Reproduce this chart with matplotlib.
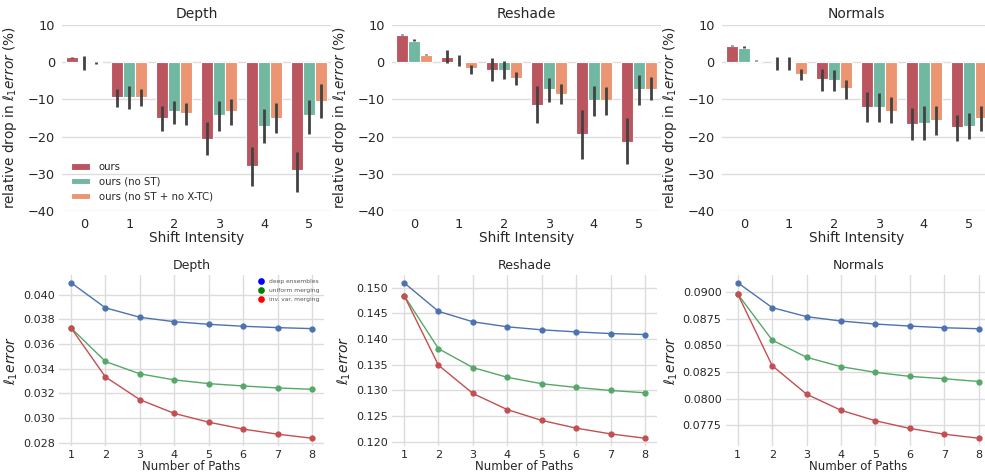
import matplotlib
matplotlib.use("Agg")
import matplotlib.pyplot as plt
import numpy as np

plt.rcParams.update({
    "font.family": "DejaVu Sans",
    "text.color": "#262626",
    "axes.labelcolor": "#262626",
    "xtick.color": "#262626",
    "ytick.color": "#262626",
})

# --- top row: relative drop in l1 error per shift intensity ---
tasks = ["Depth", "Reshade", "Normals"]
shifts = [0, 1, 2, 3, 4, 5]
methods = ["ours", "ours (no ST)", "ours (no ST + no X-TC)"]
bar_colors = ["#bb5560", "#70b8a1", "#eb9572"]

depth_mean = [
    [1.25, -9.3, -15.0, -20.6, -27.8, -29.1],
    [0.0, -9.5, -13.2, -14.3, -17.2, -14.2],
    [-0.2, -9.5, -13.8, -13.1, -15.0, -10.5],
]
depth_lo = [
    [1.2, -12.1, -18.6, -24.9, -33.2, -34.8],
    [-2.0, -12.5, -16.7, -18.4, -21.8, -19.4],
    [-0.4, -11.9, -17.0, -16.8, -19.1, -15.1],
]
depth_hi = [
    [1.5, -7.2, -11.7, -16.1, -22.8, -24.2],
    [1.7, -6.4, -10.4, -10.4, -12.6, -10.1],
    [-0.1, -7.3, -11.0, -9.8, -11.0, -5.8],
]

reshade_mean = [
    [7.3, 1.4, -2.0, -11.4, -19.3, -21.4],
    [5.7, 0.3, -2.0, -7.3, -10.2, -7.3],
    [2.0, -1.7, -4.3, -8.5, -10.2, -7.2],
]
reshade_lo = [
    [7.2, -0.3, -5.0, -16.4, -25.9, -27.3],
    [5.8, -1.1, -4.6, -10.7, -14.5, -11.4],
    [2.0, -3.1, -6.2, -11.3, -14.3, -10.3],
]
reshade_hi = [
    [7.6, 3.3, 1.1, -6.4, -12.8, -15.0],
    [6.1, 2.0, 0.2, -4.3, -6.3, -3.5],
    [2.3, -0.7, -2.7, -5.8, -6.6, -4.1],
]

normals_mean = [
    [4.2, 0.0, -4.6, -12.0, -16.6, -17.5],
    [3.9, -0.2, -4.8, -12.0, -16.3, -17.1],
    [0.4, -3.2, -7.0, -13.0, -15.5, -14.9],
]
normals_lo = [
    [4.2, -2.0, -7.7, -16.0, -20.9, -21.3],
    [3.9, -2.2, -7.7, -16.1, -20.9, -20.7],
    [0.4, -4.9, -9.8, -16.4, -19.6, -18.4],
]
normals_hi = [
    [4.6, 1.5, -1.8, -8.1, -12.4, -14.1],
    [4.3, 1.3, -2.0, -8.4, -11.9, -13.8],
    [0.7, -1.9, -4.7, -9.3, -11.9, -11.7],
]

bar_data = {
    "Depth": (depth_mean, depth_lo, depth_hi),
    "Reshade": (reshade_mean, reshade_lo, reshade_hi),
    "Normals": (normals_mean, normals_lo, normals_hi),
}

# --- bottom row: l1 error vs number of paths ---
n_paths = [1, 2, 3, 4, 5, 6, 7, 8]
line_names = ["deep ensembles", "uniform merging", "inv. var. merging"]
line_colors = ["#4c72b0", "#55a868", "#c44e52"]
legend_colors = ["blue", "green", "red"]

depth_lines = [
    [0.04095, 0.03892, 0.03816, 0.03780, 0.03759, 0.03743, 0.03732, 0.03724],
    [0.03729, 0.03458, 0.03358, 0.03309, 0.03279, 0.03260, 0.03244, 0.03233],
    [0.03729, 0.03333, 0.03149, 0.03038, 0.02967, 0.02911, 0.02870, 0.02837],
]
reshade_lines = [
    [0.15098, 0.14540, 0.14337, 0.14239, 0.14180, 0.14140, 0.14107, 0.14088],
    [0.14849, 0.13812, 0.13444, 0.13254, 0.13129, 0.13057, 0.12998, 0.12952],
    [0.14849, 0.13490, 0.12939, 0.12624, 0.12414, 0.12263, 0.12151, 0.12066],
]
normals_lines = [
    [0.09088, 0.08855, 0.08770, 0.08729, 0.08701, 0.08682, 0.08666, 0.08657],
    [0.08981, 0.08550, 0.08389, 0.08301, 0.08248, 0.08210, 0.08188, 0.08162],
    [0.08981, 0.08310, 0.08043, 0.07892, 0.07794, 0.07722, 0.07668, 0.07630],
]
line_data = {"Depth": depth_lines, "Reshade": reshade_lines, "Normals": normals_lines}
ytick_fmt = {"Depth": "{:.3f}", "Reshade": "{:.3f}", "Normals": "{:.4f}"}
yticks = {
    "Depth": np.arange(0.028, 0.0405, 0.002),
    "Reshade": np.arange(0.120, 0.1505, 0.005),
    "Normals": np.arange(0.0775, 0.0905, 0.0025),
}

fig = plt.figure(figsize=(9.85, 4.76), dpi=100)

top_lefts = [0.0629, 0.3975, 0.7328]
bot_lefts = [0.0599, 0.3980, 0.7368]


def strip(ax):
    for s in ax.spines.values():
        s.set_visible(False)
    ax.tick_params(length=0)


for i, task in enumerate(tasks):
    ax = fig.add_axes([top_lefts[i], 0.5567, 0.2736, 0.391])
    strip(ax)
    mean, lo, hi = bar_data[task]
    x = np.arange(len(shifts))
    w = 0.8 / 3
    for j in range(3):
        xs = x - 0.4 + w * (j + 0.5)
        ax.bar(xs, mean[j], width=w, color=bar_colors[j], edgecolor="white",
               linewidth=0.8, label=methods[j], zorder=2)
        ax.vlines(xs, lo[j], hi[j], color="#424242", lw=2.0, zorder=3)
    ax.set_xlim(-0.5, 5.5)
    ax.set_ylim(-40, 10)
    ax.set_yticks([-40, -30, -20, -10, 0, 10])
    ax.set_xticks(x)
    ax.set_xticklabels([str(s) for s in shifts])
    ax.yaxis.grid(True, color="#dcdcdc", lw=1.0, zorder=0)
    ax.set_axisbelow(True)
    ax.tick_params(labelsize=9.3, pad=5)
    ax.set_title(task, fontsize=10, pad=5)
    ax.set_xlabel("Shift Intensity", fontsize=9.8, labelpad=0)
    ax.set_ylabel(r"relative drop in $\ell_1 error$ (%)", fontsize=9.8, labelpad=6)
    if i == 0:
        ax.legend(loc="lower left", bbox_to_anchor=(0.019, 0.03), borderaxespad=0,
                  frameon=False, fontsize=7.3, handlelength=1.9,
                  handleheight=0.6, handletextpad=0.8, labelspacing=0.45)

for i, task in enumerate(tasks):
    ax = fig.add_axes([bot_lefts[i], 0.063, 0.269, 0.3593])
    strip(ax)
    ax.grid(True, color="#dcdcdc", lw=1.0)
    ax.set_axisbelow(True)
    for j in range(3):
        ax.plot(n_paths, line_data[task][j], color=line_colors[j], lw=1.0,
                marker="o", ms=3.5)
    ax.set_xticks(n_paths)
    ax.set_yticks(yticks[task])
    ax.set_yticklabels([ytick_fmt[task].format(v) for v in yticks[task]])
    ax.tick_params(labelsize=8, pad=3)
    ax.set_title(task, fontsize=9, pad=4)
    ax.set_xlabel("Number of Paths", fontsize=8.5, labelpad=0)
    ax.set_ylabel(r"$\ell_1 error$", fontsize=10, labelpad=2)
    if i == 0:
        handles = [plt.Line2D([], [], ls="", marker="o", ms=3.8, color=c)
                   for c in legend_colors]
        ax.legend(handles, line_names, loc="upper right", frameon=False,
                  fontsize=4.3, labelcolor="#555555", handletextpad=0.4,
                  labelspacing=0.6, borderaxespad=0.3)

fig.savefig("out.png", dpi=100)
